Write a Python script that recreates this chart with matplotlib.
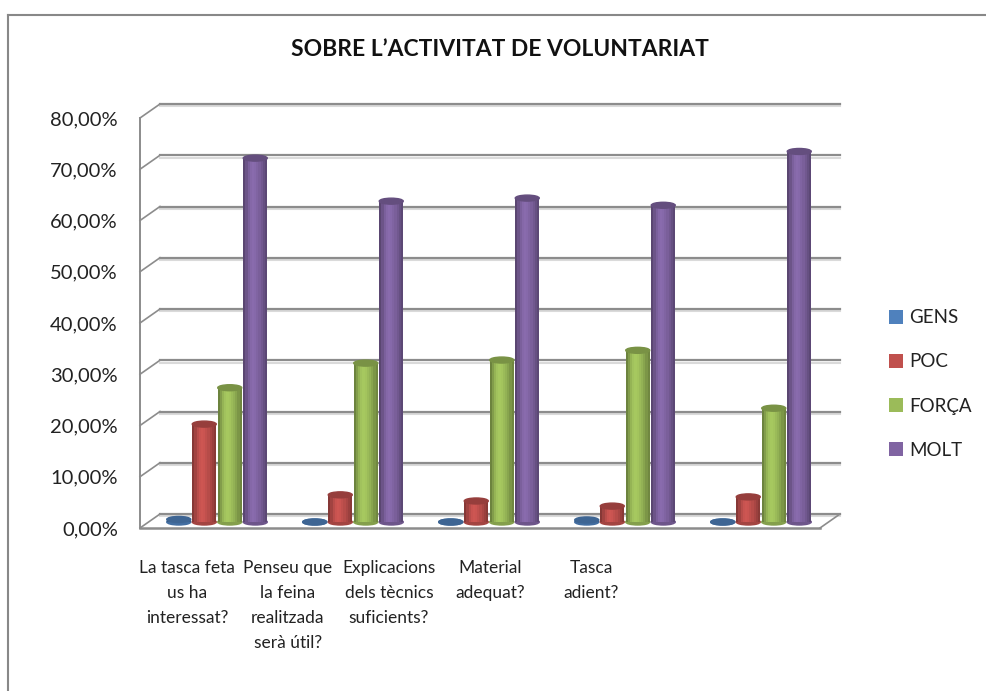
"""Sobre l'activitat de voluntariat: columnes cilíndriques 3D a l'estil Excel."""
import matplotlib
matplotlib.use("Agg")
import matplotlib.pyplot as plt
from matplotlib.colors import to_rgb
from matplotlib.lines import Line2D
from matplotlib.patches import Ellipse, Patch

CATEGORIES = [
    "La tasca feta\nus ha\ninteressat?",
    "Penseu que\nla feina\nrealitzada\nserà útil?",
    "Explicacions\ndels tècnics\nsuficients?",
    "Material\nadequat?",
    "Tasca\nadient?",
]
SERIES = ["GENS", "POC", "FORÇA", "MOLT"]
GENS = [0.5, 0.0, 0.0, 0.4, 0.0]
POC = [19.1, 5.3, 4.1, 3.1, 4.9]
FORCA = [26.2, 31.0, 31.6, 33.5, 22.2]
MOLT = [71.0, 62.6, 63.2, 61.8, 72.3]
YTICKS = [0, 10, 20, 30, 40, 50, 60, 70, 80]
TITLE = "SOBRE L’ACTIVITAT DE VOLUNTARIAT"

COLORS = ["#4F81BD", "#C0504D", "#9BBB59", "#8064A2"]
GRID = "#8c8c8c"
FONT = ["Lato", "DejaVu Sans"]

W, H = 986, 691
PX_X = 136.0          # px per categoria
PX_Y = 410.0 / 80     # px per punt percentual

# profunditat 3D (en unitats de dades)
BACK_DX, BACK_DY = 20 / PX_X, 14 / PX_Y
MID_DX, MID_DY = 9 / PX_X, 6 / PX_Y
BAR_W = 24 / PX_X
BAR_STEP = 25.5 / PX_X
ELL_H = 6 / PX_Y

plt.rcParams["font.family"] = FONT

fig = plt.figure(figsize=(W / 100, H / 100), dpi=100)
ax = fig.add_axes([140 / W, 163 / H, 680 / W, 410 / H])
ax.set_xlim(-0.5, 4.5)
ax.set_ylim(0, 80)
for s in ax.spines.values():
    s.set_visible(False)
ax.set_xticks([])
ax.set_yticks(YTICKS, [f"{v:.2f}%".replace(".", ",") for v in YTICKS])
ax.tick_params(axis="y", length=0, pad=16, labelsize=14.5, labelcolor="#222222")

x0, x1 = -0.5, len(CATEGORIES) - 0.5

# paret del fons: línies de graella + ombra
for v in YTICKS:
    ax.plot([x0 + BACK_DX, x1 + BACK_DX], [v + BACK_DY - 0.45, v + BACK_DY - 0.45],
            color="#dadada", lw=1.5, clip_on=False, zorder=1)
    ax.plot([x0 + BACK_DX, x1 + BACK_DX], [v + BACK_DY, v + BACK_DY],
            color=GRID, lw=1.6, clip_on=False, zorder=2)
    # paret lateral
    ax.plot([x0, x0 + BACK_DX], [v, v + BACK_DY], color=GRID, lw=1.2,
            clip_on=False, zorder=2)

# eix frontal i terra
ax.plot([x0, x0], [0, 80], color=GRID, lw=1.4, clip_on=False, zorder=2)
ax.plot([x0, x1], [0, 0], color=GRID, lw=1.8, clip_on=False, zorder=2)
ax.plot([x1, x1 + BACK_DX], [0, BACK_DY], color=GRID, lw=1.2, clip_on=False, zorder=2)

# cilindres
SHADE = [0.70, 0.84, 0.96, 1.04, 1.07, 1.05, 1.0, 0.95, 0.88, 0.80, 0.72]


def shade(c, f):
    r, g, b = to_rgb(c)
    return (min(r * f, 1), min(g * f, 1), min(b * f, 1))


values = [GENS, POC, FORCA, MOLT]
z = 5
for i in range(len(CATEGORIES)):
    for j, (vals, col) in enumerate(zip(values, COLORS)):
        v = vals[i]
        xc = i + (j - 1.5) * BAR_STEP + MID_DX
        base = MID_DY
        ax.add_patch(Ellipse((xc, base), BAR_W, ELL_H, color=shade(col, 0.85),
                             clip_on=False, zorder=z))
        n = len(SHADE)
        sw = BAR_W / n
        for k, f in enumerate(SHADE):
            ax.bar(xc - BAR_W / 2 + (k + 0.5) * sw, v, width=sw * 1.05, bottom=base,
                   color=shade(col, f), linewidth=0, clip_on=False, zorder=z + 0.1)
        ax.add_patch(Ellipse((xc, base + v), BAR_W, ELL_H, color=shade(col, 0.78),
                             clip_on=False, zorder=z + 0.2))
        z += 1

# títol
fig.text(500 / W, 1 - 50 / H, TITLE, ha="center", va="center", fontsize=16.5,
         fontweight="bold", color="#111111")

# etiquetes de categoria
for i, lab in enumerate(CATEGORIES):
    fig.text((187 + 101 * i) / W, 1 - 560 / H, lab, ha="center", va="top",
             fontsize=12.5, linespacing=1.7, color="#222222")

# llegenda
handles = [Patch(facecolor=c, edgecolor="none") for c in COLORS]
fig.legend(handles, SERIES, loc="center left", bbox_to_anchor=(889 / W, 1 - 384 / H),
           frameon=False, fontsize=13.5, handlelength=0.75, handleheight=0.75,
           handletextpad=0.35, labelspacing=1.45, borderpad=0, borderaxespad=0,
           labelcolor="#222222")

# vora del gràfic
fig.add_artist(Line2D([8 / W, 1], [1 - 15 / H, 1 - 15 / H], transform=fig.transFigure,
                      color="#888888", lw=1.5))
fig.add_artist(Line2D([8 / W, 8 / W], [0, 1 - 15 / H], transform=fig.transFigure,
                      color="#888888", lw=1.5))

fig.savefig("out.png", dpi=100)
